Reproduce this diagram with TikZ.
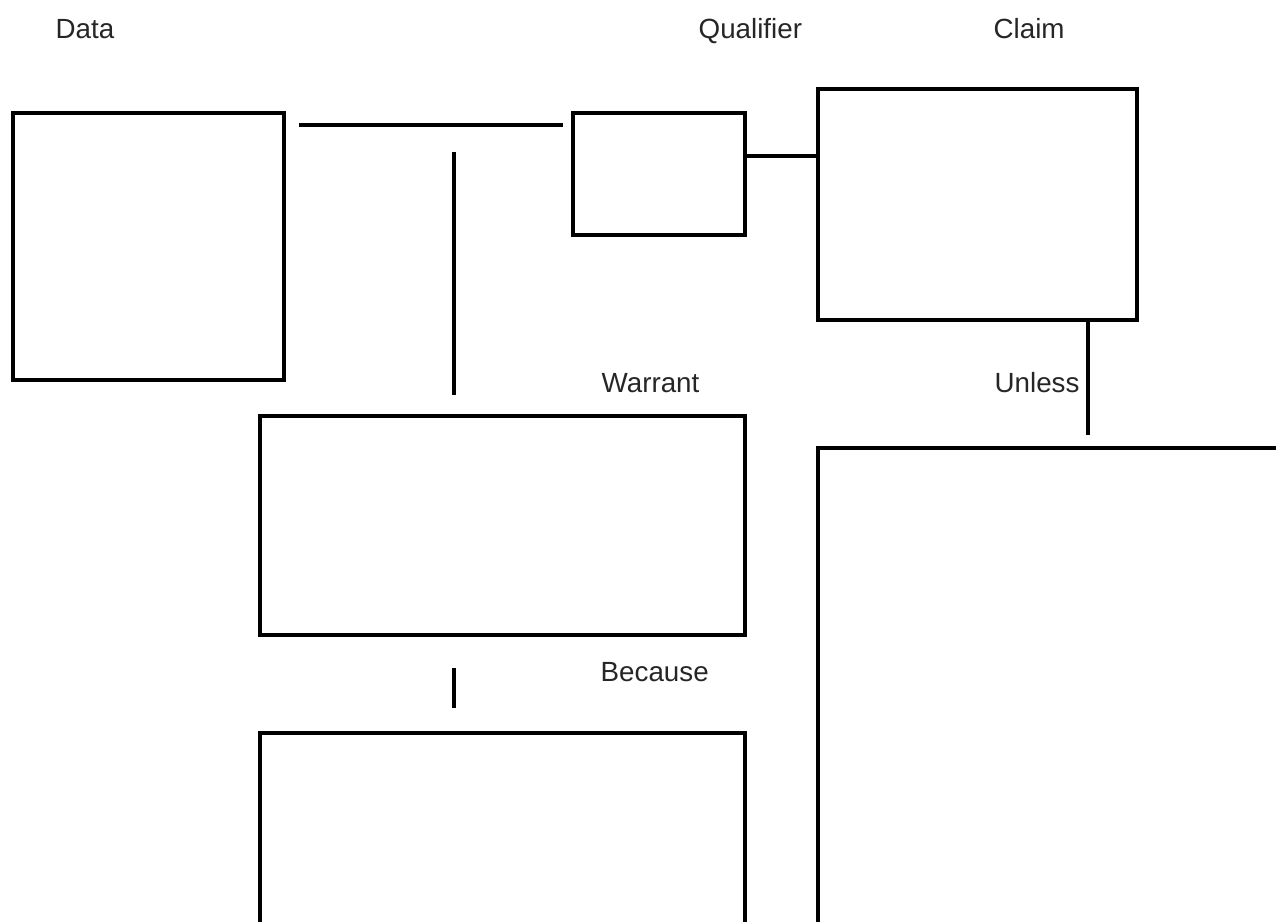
\documentclass[tikz,border=0pt]{standalone}
\usepackage{fontspec}
\setmainfont{Liberation Sans}
\begin{document}
\begin{tikzpicture}[
    x=0.02cm, y=-0.02cm,
    line width=1.9pt,
    partbox/.style={draw, rectangle, inner sep=0pt, outer sep=0pt},
    partlabel/.style={anchor=base west, inner sep=0pt, text=black!85, font=\fontsize{15.8}{19}\selectfont},
]

\useasboundingbox (0,0) rectangle (1276,922);
\clip (0,0) rectangle (1276,922);

% labels
\node[partlabel] (datalabel) at (54, 39) {Data};
\node[partlabel] (quallabel) at (697, 39) {Qualifier};
\node[partlabel] (claimlabel) at (992, 39) {Claim};
\node[partlabel] (warrantlabel) at (600, 393) {Warrant};
\node[partlabel] (unlesslabel) at (993, 393) {Unless};
\node[partlabel] (becauselabel) at (599, 681) {Because};

% boxes
\node[partbox, minimum width=5.42cm, minimum height=5.34cm] (data) at (148.5, 246.5) {};
\node[partbox, minimum width=3.44cm, minimum height=2.44cm] (qualifier) at (659, 174) {};
\node[partbox, minimum width=6.38cm, minimum height=4.62cm] (claim) at (977.5, 204.5) {};
\node[partbox, minimum width=9.70cm, minimum height=4.38cm] (warrant) at (502.5, 525.5) {};
\node[partbox, minimum width=9.70cm, minimum height=4.54cm] (backing) at (502.5, 846.5) {};
\node[partbox, minimum width=9.64cm, minimum height=10.24cm] (rebuttal) at (1059, 704) {};

% connectors
\coordinate (datalinestart) at (299, 125);
\coordinate (datalineend) at (563, 125);
\coordinate (warrantlinetop) at (454, 152);
\coordinate (warrantlinebottom) at (454, 395);
\coordinate (unlesslineend) at (1088, 435);
\coordinate (becauselinetop) at (454, 668);
\coordinate (becauselinebottom) at (454, 708);

\draw (datalinestart) -- (datalineend);
\draw (warrantlinetop) -- (warrantlinebottom);
\draw ([yshift=0.36cm]qualifier.east) -- ([yshift=0.36cm]qualifier.east -| claim.west);
\draw (unlesslineend |- claim.south) -- (unlesslineend);
\draw (becauselinetop) -- (becauselinebottom);

\end{tikzpicture}
\end{document}
